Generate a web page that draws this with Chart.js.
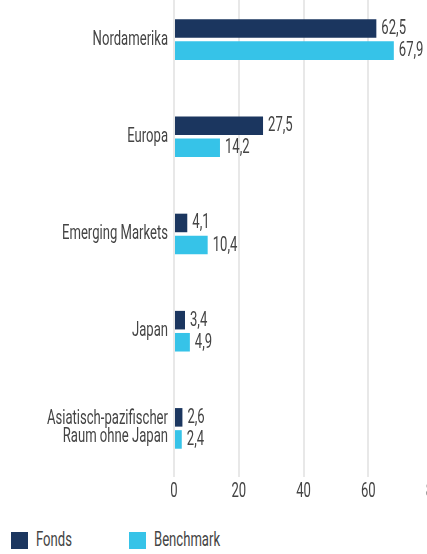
<!DOCTYPE html>
<html>
<head>
<meta charset="utf-8">
<script src="https://cdn.jsdelivr.net/npm/chart.js@4"></script>
<style>
  html, body { margin: 0; padding: 0; background: #fff; width: 427px; height: 554px; overflow: hidden; position: relative; }
  #c { position: absolute; left: 0; top: -10px; }
  .legend { position: absolute; top: 531px; height: 19px; font-family: Roboto, sans-serif; font-weight: 400; font-size: 20px; color: #444; }
  .legend .box { position: absolute; left: 0; top: 1px; width: 17px; height: 17px; }
  .legend .txt { position: absolute; left: 25px; top: -4px; white-space: nowrap; transform-origin: 0 50%; }
</style>
</head>
<body>
<canvas id="c" width="450" height="517"></canvas>
<div class="legend" style="left:11px"><span class="box" id="b0"></span><span class="txt" id="t0"></span></div>
<div class="legend" style="left:129px"><span class="box" id="b1"></span><span class="txt" id="t1"></span></div>
<script>
const categories = ["Nordamerika", "Europa", "Emerging Markets", "Japan", ["Asiatisch-pazifischer", "Raum ohne Japan"]];
const seriesNames = ["Fonds", "Benchmark"];
const fondsValues = [62.5, 27.5, 4.1, 3.4, 2.6];
const benchmarkValues = [67.9, 14.2, 10.4, 4.9, 2.4];
const xTicks = [0, 20, 40, 60, 80];

const colors = ["#1b365f", "#36c3e8"];
const FONT = "Roboto, 'Liberation Sans Narrow', sans-serif";
const FSIZE = 20;
const FWEIGHT = 400;
const TEXT = "#444444";

// horizontal condensing factor so text matches the narrow reference face
const mc = document.createElement('canvas').getContext('2d');
mc.font = FWEIGHT + " " + FSIZE + "px " + FONT;
const SX = 106 / mc.measureText("Emerging Markets").width;

document.getElementById('b0').style.background = colors[0];
document.getElementById('b1').style.background = colors[1];
['t0', 't1'].forEach((id, i) => {
  const el = document.getElementById(id);
  el.textContent = seriesNames[i];
  el.style.transform = 'scaleX(' + SX + ')';
});

const condense = {
  id: 'condense',
  beforeDraw(chart) {
    const ctx = chart.ctx;
    if (ctx._condensed) return;
    const orig = ctx.fillText;
    ctx.fillText = function (t, x, y) {
      this.save();
      this.translate(x, y);
      this.scale(SX, 1);
      orig.call(this, t, 0, 0);
      this.restore();
    };
    ctx._condensed = true;
  }
};

const valueLabels = {
  id: 'valueLabels',
  afterDatasetsDraw(chart) {
    const ctx = chart.ctx;
    ctx.save();
    ctx.font = FWEIGHT + " " + FSIZE + "px " + FONT;
    ctx.fillStyle = TEXT;
    ctx.textAlign = 'left';
    ctx.textBaseline = 'middle';
    chart.data.datasets.forEach((ds, di) => {
      chart.getDatasetMeta(di).data.forEach((bar, i) => {
        const v = ds.data[i];
        ctx.fillText(v.toFixed(1).replace('.', ','), bar.x + 5, bar.y + 0.5);
      });
    });
    ctx.restore();
  }
};

new Chart(document.getElementById('c'), {
  type: 'bar',
  data: {
    labels: categories,
    datasets: [
      { label: seriesNames[0], data: fondsValues, backgroundColor: colors[0], categoryPercentage: 0.4545, barPercentage: 0.84 },
      { label: seriesNames[1], data: benchmarkValues, backgroundColor: colors[1], categoryPercentage: 0.4545, barPercentage: 0.84 }
    ]
  },
  options: {
    indexAxis: 'y',
    responsive: false,
    animation: false,
    devicePixelRatio: 1,
    layout: { padding: { top: 1, right: 17, left: 0, bottom: 0 } },
    plugins: { legend: { display: false }, tooltip: { enabled: false } },
    scales: {
      x: {
        min: 0, max: 80,
        afterBuildTicks(scale) { scale.ticks = xTicks.map(v => ({ value: v })); },
        afterFit(scale) { scale.height = 30; scale.paddingLeft = 0; scale.paddingRight = 0; },
        grid: { color: '#e8e8e8', lineWidth: 2, drawTicks: false },
        border: { display: false },
        ticks: { color: TEXT, font: { family: FONT, size: FSIZE, weight: FWEIGHT }, padding: 3 }
      },
      y: {
        afterFit(scale) { scale.width = 174; scale.paddingTop = 0; scale.paddingBottom = 0; },
        grid: { display: false, drawTicks: false },
        border: { display: false },
        ticks: { color: TEXT, font: { family: FONT, size: FSIZE, weight: FWEIGHT, lineHeight: 0.9 }, padding: 6 }
      }
    }
  },
  plugins: [condense, valueLabels]
});
</script>
</body>
</html>
